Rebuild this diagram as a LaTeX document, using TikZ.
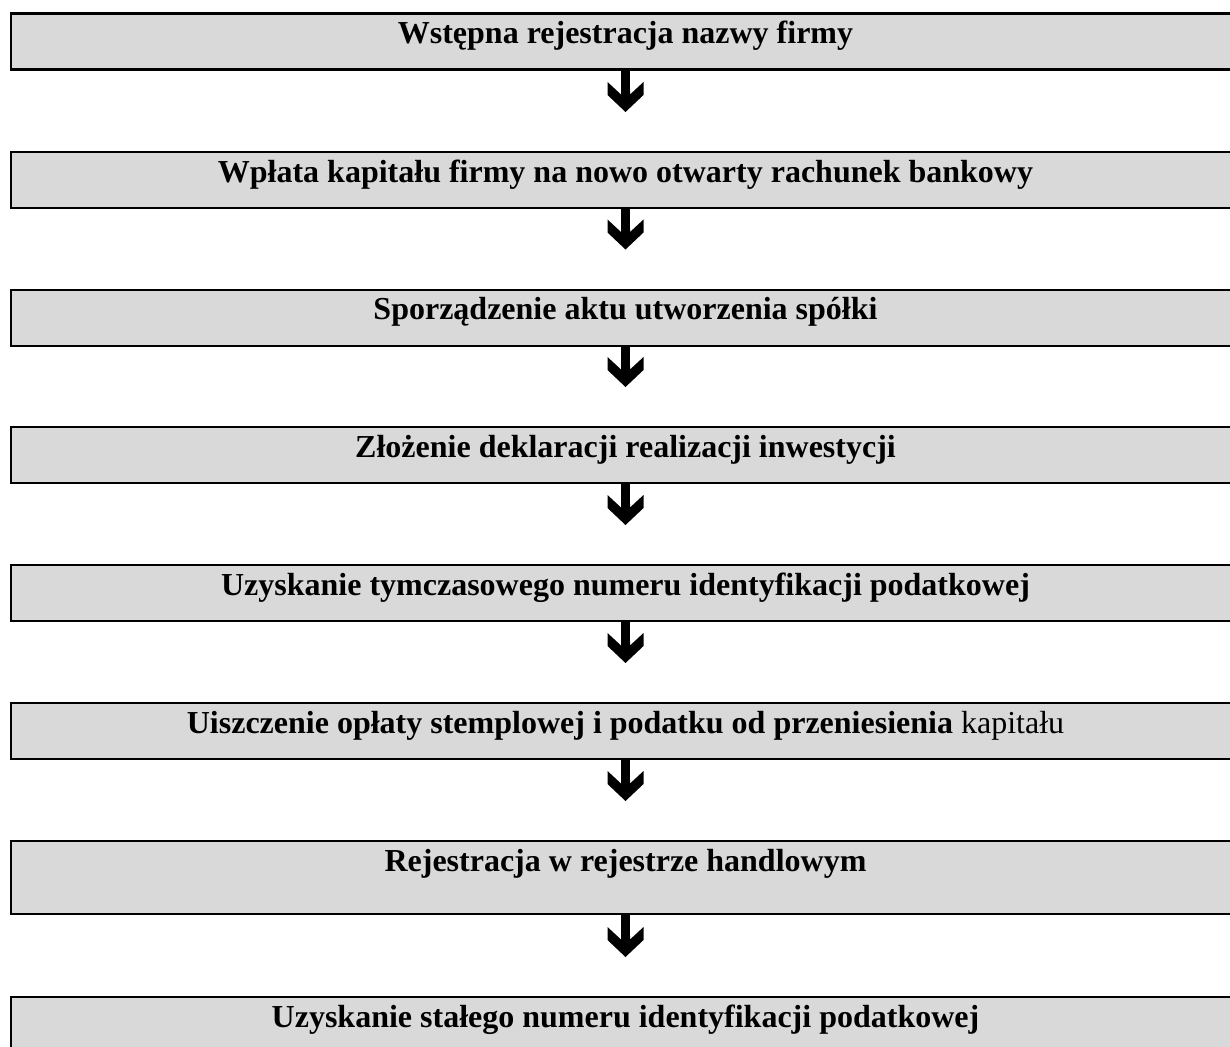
\documentclass[tikz,border=0pt]{standalone}
\usepackage{fontspec}
\setmainfont{Liberation Serif}
\usetikzlibrary{arrows.meta}
\definecolor{boxgray}{HTML}{D9D9D9}
\pgfdeclarearrow{
  name = Chevron,
  setup code = {
    \pgfarrowssettipend{0pt}
    \pgfarrowssetlineend{-20pt}
    \pgfarrowssetvisualbackend{-30pt}
    \pgfarrowssetbackend{-30pt}
    \pgfarrowshullpoint{0pt}{0pt}
    \pgfarrowshullpoint{-30pt}{18pt}
    \pgfarrowshullpoint{-30pt}{-18pt}
  },
  drawing code = {
    \pgfpathmoveto{\pgfpoint{0pt}{0pt}}
    \pgfpathlineto{\pgfpoint{-17pt}{18pt}}
    \pgfpathlineto{\pgfpoint{-30pt}{18pt}}
    \pgfpathlineto{\pgfpoint{-17.5pt}{4.5pt}}
    \pgfpathlineto{\pgfpoint{-21pt}{4.5pt}}
    \pgfpathlineto{\pgfpoint{-21pt}{-4.5pt}}
    \pgfpathlineto{\pgfpoint{-17.5pt}{-4.5pt}}
    \pgfpathlineto{\pgfpoint{-30pt}{-18pt}}
    \pgfpathlineto{\pgfpoint{-17pt}{-18pt}}
    \pgfpathclose
    \pgfusepathqfill
  }
}
\tikzset{
  stepbox/.style={draw=black, line width=2.2pt, fill=boxgray, anchor=north,
    minimum width=1229pt, inner xsep=0pt, inner ysep=0pt,
    text height=30pt, text depth=26pt,
    font=\fontsize{32}{38}\selectfont},
  tallbox/.style={stepbox, text depth=43pt},
  flow/.style={line width=9pt, black, shorten >=39pt, -{Chevron}}
}
\begin{document}
\begin{tikzpicture}[x=1pt, y=1pt]
\useasboundingbox (0,0) rectangle (1230,-1046);
\clip (0,0) rectangle (1230,-1046);
\node[stepbox] (b1) at (625.5,-12.5) {\textbf{Wstępna rejestracja nazwy firmy}};
\node[stepbox] (b2) at (625.5,-151) {\textbf{Wpłata kapitału firmy na nowo otwarty rachunek bankowy}};
\node[stepbox] (b3) at (625.5,-288.5) {\textbf{Sporządzenie aktu utworzenia spółki}};
\node[stepbox] (b4) at (625.5,-426) {\textbf{Złożenie deklaracji realizacji inwestycji}};
\node[stepbox] (b5) at (625.5,-564) {\textbf{Uzyskanie tymczasowego numeru identyfikacji podatkowej}};
\node[stepbox] (b6) at (625.5,-702) {\textbf{Uiszczenie opłaty stemplowej i podatku od przeniesienia} kapitału};
\node[tallbox] (b7) at (625.5,-840) {\textbf{Rejestracja w rejestrze handlowym}};
\node[tallbox] (b8) at (625.5,-996) {\textbf{Uzyskanie stałego numeru identyfikacji podatkowej}};
\foreach \a/\b in {b1/b2,b2/b3,b3/b4,b4/b5,b5/b6,b6/b7,b7/b8}
  \draw[flow] (\a.south) -- (\b.north);
\end{tikzpicture}
\end{document}
